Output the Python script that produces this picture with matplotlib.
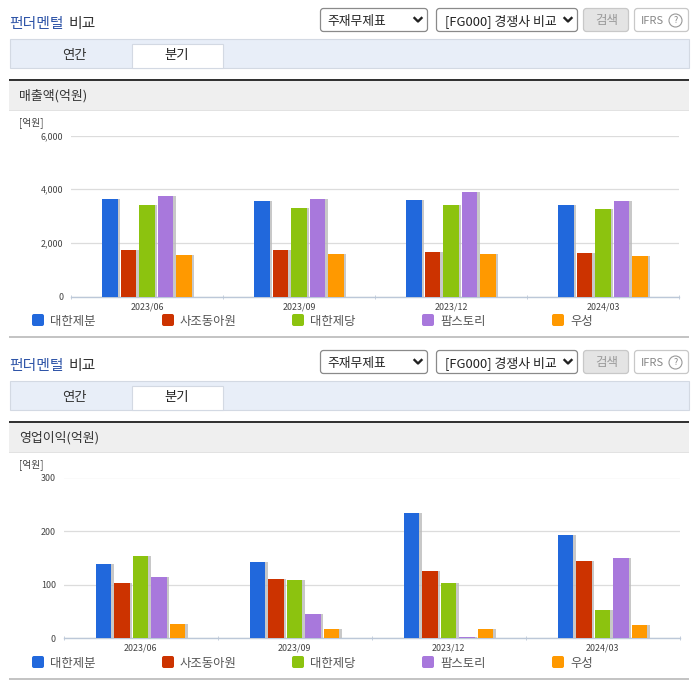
#!/usr/bin/env python3
import matplotlib
matplotlib.use('Agg')
import matplotlib.pyplot as plt
import matplotlib.patheffects as pe
from matplotlib.patches import Rectangle, FancyBboxPatch, Circle
from matplotlib.ticker import FixedLocator, FixedFormatter

plt.rcParams['font.family'] = ['Noto Sans CJK KR', 'DejaVu Sans']

W, H = 696, 684

quarters = ['2023/06', '2023/09', '2023/12', '2024/03']
companies = ['대한제분', '사조동아원', '대한제당', '팜스토리', '우성']
colors = ['#2168dc', '#cc3300', '#8cc30f', '#a878dc', '#ff9900']

sales_daehan = [3650, 3570, 3590, 3400]
sales_sajo = [1720, 1720, 1650, 1640]
sales_tsc = [3430, 3320, 3400, 3250]
sales_farm = [3730, 3650, 3880, 3580]
sales_woosung = [1570, 1600, 1600, 1500]

profit_daehan = [138, 142, 233, 193]
profit_sajo = [103, 110, 126, 144]
profit_tsc = [153, 108, 104, 53]
profit_farm = [114, 45, 3, 150]
profit_woosung = [26, 17, 18, 25]

sales_ticks = [0, 2000, 4000, 6000]
profit_ticks = [0, 100, 200, 300]

fig = plt.figure(figsize=(W / 100, H / 100), dpi=100)

# page furniture is drawn in pixel coordinates on one background axes
bg = fig.add_axes([0, 0, 1, 1])
bg.set_xlim(0, W)
bg.set_ylim(H, 0)
bg.axis('off')


def box(x0, y0, x1, y1, fc, ec='none', lw=0.0, z=1):
    bg.add_patch(Rectangle((x0, y0), x1 - x0, y1 - y0, fc=fc, ec=ec, lw=lw, zorder=z))


def rounded(x0, y0, x1, y1, fc, ec):
    bg.add_patch(FancyBboxPatch((x0 + 2, y0 + 2), x1 - x0 - 4, y1 - y0 - 4,
                                boxstyle='round,pad=2,rounding_size=3', fc=fc, ec=ec, lw=0.9))


def chevron(x, y):
    bg.plot([x - 3.5, x, x + 3.5], [y - 2, y + 1.5, y - 2], color='#222222', lw=1.7, zorder=3)


def draw_header(off, section):
    bg.text(9, 24 + off, '펀더멘털', color='#2f55a8', fontsize=10.7, fontweight='medium', va='center')
    bg.text(69, 24 + off, '비교', color='#333333', fontsize=10.7, fontweight='medium', va='center')

    rounded(320.5, 8.5 + off, 427.5, 31.5 + off, 'white', '#8a8a8a')
    bg.text(327, 21 + off, '주재무제표', color='#222222', fontsize=9.2, va='center')
    chevron(418, 20 + off)
    rounded(436.5, 8.5 + off, 577.5, 31.5 + off, 'white', '#8a8a8a')
    bg.text(445, 21 + off, '[FG000] 경쟁사 비교', color='#222222', fontsize=9.3, va='center')
    chevron(568, 20 + off)
    rounded(583.5, 8.5 + off, 628.5, 31.5 + off, '#e4e4e4', '#c8c8c8')
    bg.text(606.5, 20.5 + off, '검색', color='#999999', fontsize=9, ha='center', va='center')
    rounded(634.5, 8.5 + off, 688.5, 31.5 + off, 'white', '#c8c8c8')
    bg.text(641, 20.5 + off, 'IFRS', color='#888888', fontsize=8, va='center')
    bg.add_patch(Circle((675.5, 20.5 + off), 6.5, fc='white', ec='#999999', lw=0.8, zorder=3))
    bg.text(675.5, 20.5 + off, '?', color='#888888', fontsize=6.5, ha='center', va='center', zorder=4)

    box(9.5, 38.5 + off, 688.5, 67.5 + off, '#e8eef8', '#d3d9e3', 0.8)
    box(131.5, 43.5 + off, 222.5, 67.5 + off, 'white', '#d3d9e3', 0.8, z=2)
    bg.text(74, 55 + off, '연간', color='#333333', fontsize=9.6, ha='center', va='center', zorder=3)
    bg.text(177, 55.5 + off, '분기', color='#222222', fontsize=9.6, ha='center', va='center', zorder=3)

    box(9, 78.5 + off, 689, 80.5 + off, '#333333', z=2)
    box(9, 80 + off, 689, 110 + off, '#efefef')
    box(9, 110 + off, 689, 111 + off, '#e2e2e2')
    bg.text(19, 96 + off, section, color='#333333', fontsize=9.3, va='center')
    bg.text(19, 123 + off, '[억원]', color='#444444', fontsize=7, va='center')


def draw_legend(off):
    for i, name in enumerate(companies):
        x = 32 + 130 * i
        bg.add_patch(FancyBboxPatch((x + 1.5, 315.5 + off), 9, 9, boxstyle='round,pad=1.5,rounding_size=2',
                                    fc=colors[i], ec='none'))
        bg.text(x + 18, 321 + off, name, color='#555555', fontsize=8.9, va='center')
    box(9, 336 + off, 689, 338 + off, '#c4c4c4')


def draw_chart(left, right, top, bottom, ymax, yticks, series):
    ax = fig.add_axes([left / W, 1 - bottom / H, (right - left) / W, (bottom - top) / H])
    ax.patch.set_alpha(0)
    step = 18.4 / (right - left) * len(quarters)
    bar_w = 15.5 / (right - left) * len(quarters)
    for i, values in enumerate(series):
        xs = [q + 0.5 + (i - 2) * step for q in range(len(quarters))]
        bars = ax.bar(xs, values, width=bar_w, color=colors[i], zorder=3)
        for b in bars:
            b.set_path_effects([pe.SimplePatchShadow(offset=(1.8, 0), shadow_rgbFace='#bbbbbb', alpha=0.8),
                                pe.Normal()])
    ax.set_xlim(0, len(quarters))
    ax.set_ylim(0, ymax)
    ax.set_yticks(yticks)
    ax.set_yticklabels([f'{t:,}' for t in yticks], fontsize=6.4, color='#444444')
    ax.grid(axis='y', color='#dcdcdc', lw=0.9, zorder=0)
    ax.set_axisbelow(True)
    for s in ['top', 'right', 'left']:
        ax.spines[s].set_visible(False)
    ax.spines['bottom'].set_color('#bcc8d8')
    ax.spines['bottom'].set_linewidth(1.0)
    ax.xaxis.set_major_locator(FixedLocator(range(len(quarters) + 1)))
    ax.xaxis.set_major_formatter(FixedFormatter([]))
    ax.xaxis.set_minor_locator(FixedLocator([q + 0.5 for q in range(len(quarters))]))
    ax.xaxis.set_minor_formatter(FixedFormatter(quarters))
    ax.tick_params(axis='x', which='major', length=3, width=0.6, color='#bcc8d8', direction='inout')
    ax.tick_params(axis='x', which='minor', length=0, labelsize=6.4, labelcolor='#444444', pad=4)
    ax.tick_params(axis='y', length=0, pad=5.5)
    return ax


def main():
    draw_header(0, '매출액(억원)')
    draw_chart(71, 679, 135.5, 296.7, 6000, sales_ticks,
               [sales_daehan, sales_sajo, sales_tsc, sales_farm, sales_woosung])
    draw_legend(0)

    draw_header(342, '영업이익(억원)')
    draw_chart(63.5, 679.5, 477.5, 638.3, 300, profit_ticks,
               [profit_daehan, profit_sajo, profit_tsc, profit_farm, profit_woosung])
    draw_legend(342)

    fig.savefig('out.png', dpi=100)


if __name__ == '__main__':
    main()
